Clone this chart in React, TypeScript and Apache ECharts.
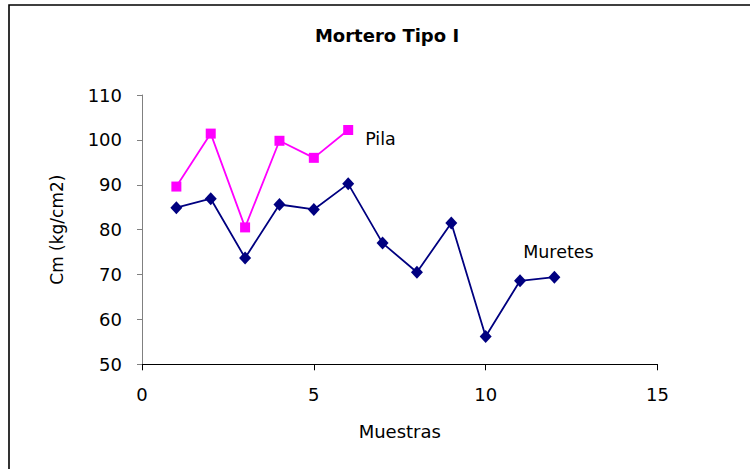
import React, { useEffect, useRef } from "react";
import * as echarts from "echarts";

// Sample numbers (Muestras) and compressive strength values (kg/cm2)
const muestrasMuretes = [1, 2, 3, 4, 5, 6, 7, 8, 9, 10, 11, 12];
const muretes = [84.9, 86.9, 73.7, 85.6, 84.5, 90.2, 77.0, 70.5, 81.5, 56.2, 68.6, 69.4];
const muestrasPila = [1, 2, 3, 4, 5, 6];
const pila = [89.6, 101.4, 80.5, 99.8, 96.0, 102.2];

const FONT = "DejaVu Sans";

export default function App() {
  const ref = useRef<HTMLDivElement>(null);

  useEffect(() => {
    if (!ref.current) return;
    const chart = echarts.init(ref.current, null, { renderer: "svg" });

    const pilaData = muestrasPila.map((x, i) => {
      const item: any = { value: [x, pila[i]] };
      if (i === pila.length - 1) {
        item.label = {
          show: true,
          formatter: "Pila",
          position: "right",
          distance: 12,
          offset: [0, 9],
          color: "#000",
          fontFamily: FONT,
          fontSize: 17.5,
        };
      }
      return item;
    });

    const muretesData = muestrasMuretes.map((x, i) => {
      const item: any = { value: [x, muretes[i]] };
      if (i === muretes.length - 1) {
        item.label = {
          show: true,
          formatter: "Muretes",
          position: "top",
          distance: 10,
          offset: [4, 0],
          color: "#000",
          fontFamily: FONT,
          fontSize: 17.5,
        };
      }
      return item;
    });

    chart.setOption({
      animation: false,
      backgroundColor: "#fff",
      title: {
        text: "Mortero Tipo I",
        left: 382,
        top: 21,
        textAlign: "center",
        textStyle: { fontFamily: FONT, fontWeight: "bold", fontSize: 18, color: "#000" },
      },
      graphic: [
        {
          type: "rect",
          shape: { x: 9, y: 5, width: 800, height: 500 },
          style: { fill: "none", stroke: "#000", lineWidth: 1.6 },
          silent: true,
        },
      ],
      grid: { left: 142, top: 95, right: 92.5, bottom: 104.7, containLabel: false },
      xAxis: {
        type: "value",
        min: 0,
        max: 15,
        interval: 5,
        name: "Muestras",
        nameLocation: "middle",
        nameGap: 58,
        nameTextStyle: { fontFamily: FONT, fontSize: 18, color: "#000" },
        splitLine: { show: false },
        axisLine: { show: true, onZero: false, lineStyle: { color: "#000", width: 1 } },
        axisTick: { show: true, inside: false, length: 6, lineStyle: { color: "#000" } },
        axisLabel: { fontFamily: FONT, fontSize: 18, color: "#000", margin: 21 },
      },
      yAxis: {
        type: "value",
        min: 50,
        max: 110,
        interval: 10,
        name: "Cm (kg/cm2)",
        nameLocation: "middle",
        nameGap: 77,
        nameTextStyle: { fontFamily: FONT, fontSize: 17, color: "#000" },
        splitLine: { show: false },
        axisLine: { show: true, lineStyle: { color: "#808080", width: 1 } },
        axisTick: { show: true, inside: false, length: 5, lineStyle: { color: "#808080" } },
        axisLabel: { fontFamily: FONT, fontSize: 18, color: "#000", margin: 20 },
      },
      series: [
        {
          name: "Pila",
          type: "line",
          data: pilaData,
          symbol: "rect",
          symbolSize: 10,
          itemStyle: { color: "#FF00FF" },
          lineStyle: { color: "#FF00FF", width: 1.8 },
          z: 3,
        },
        {
          name: "Muretes",
          type: "line",
          data: muretesData,
          symbol: "diamond",
          symbolSize: [12, 13],
          itemStyle: { color: "#000080" },
          lineStyle: { color: "#000080", width: 1.8 },
          z: 2,
        },
      ],
    });

    return () => chart.dispose();
  }, []);

  return (
    <div
      ref={ref}
      style={{ position: "fixed", left: 0, top: 0, width: 750, height: 469 }}
    />
  );
}
